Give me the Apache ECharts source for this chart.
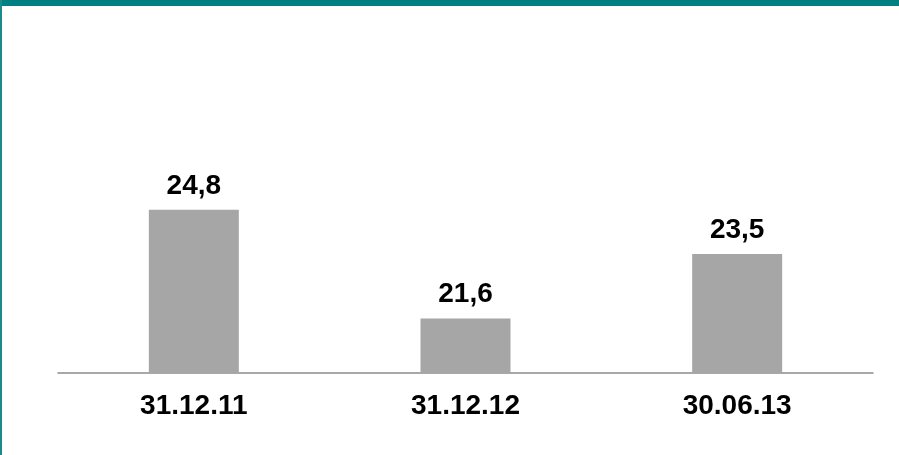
<!DOCTYPE html>
<html>
<head>
<meta charset="utf-8">
<style>
  html, body { margin: 0; padding: 0; background: #fff; }
  #chart { width: 899px; height: 455px; }
</style>
<script src="https://cdn.jsdelivr.net/npm/echarts@6/dist/echarts.min.js"></script>
</head>
<body>
<div id="chart"></div>
<script>
// Reporting dates and values shown above each bar
const categories = ['31.12.11', '31.12.12', '30.06.13'];
const values = [24.8, 21.6, 23.5];

const chart = echarts.init(document.getElementById('chart'));

chart.setOption({
  animation: false,
  backgroundColor: '#ffffff',
  graphic: [
    // teal frame: thick band along the top, thin rule down the left edge
    { type: 'rect', shape: { x: 0, y: 0, width: 899, height: 6 }, style: { fill: '#008080' } },
    { type: 'rect', shape: { x: 0, y: 0, width: 2, height: 455 }, style: { fill: '#1a8a8a' } }
  ],
  grid: { left: 58, right: 26, top: 33, bottom: 82 },
  xAxis: {
    type: 'category',
    data: categories,
    axisLine: { show: true, lineStyle: { color: '#8c8c8c', width: 1.5 } },
    axisTick: { show: false },
    axisLabel: {
      color: '#000',
      fontFamily: 'Liberation Sans, Arial, sans-serif',
      fontWeight: 'bold',
      fontSize: 28,
      margin: 19
    }
  },
  yAxis: {
    type: 'value',
    min: 20,
    max: 30,
    show: false,
    splitLine: { show: false }
  },
  series: [{
    type: 'bar',
    data: values,
    barWidth: 90,
    itemStyle: { color: '#a6a6a6' },
    label: {
      show: true,
      position: 'top',
      distance: 10,
      color: '#000',
      fontFamily: 'Liberation Sans, Arial, sans-serif',
      fontWeight: 'bold',
      fontSize: 28,
      formatter: p => String(p.value).replace('.', ',')
    }
  }]
});
</script>
</body>
</html>
